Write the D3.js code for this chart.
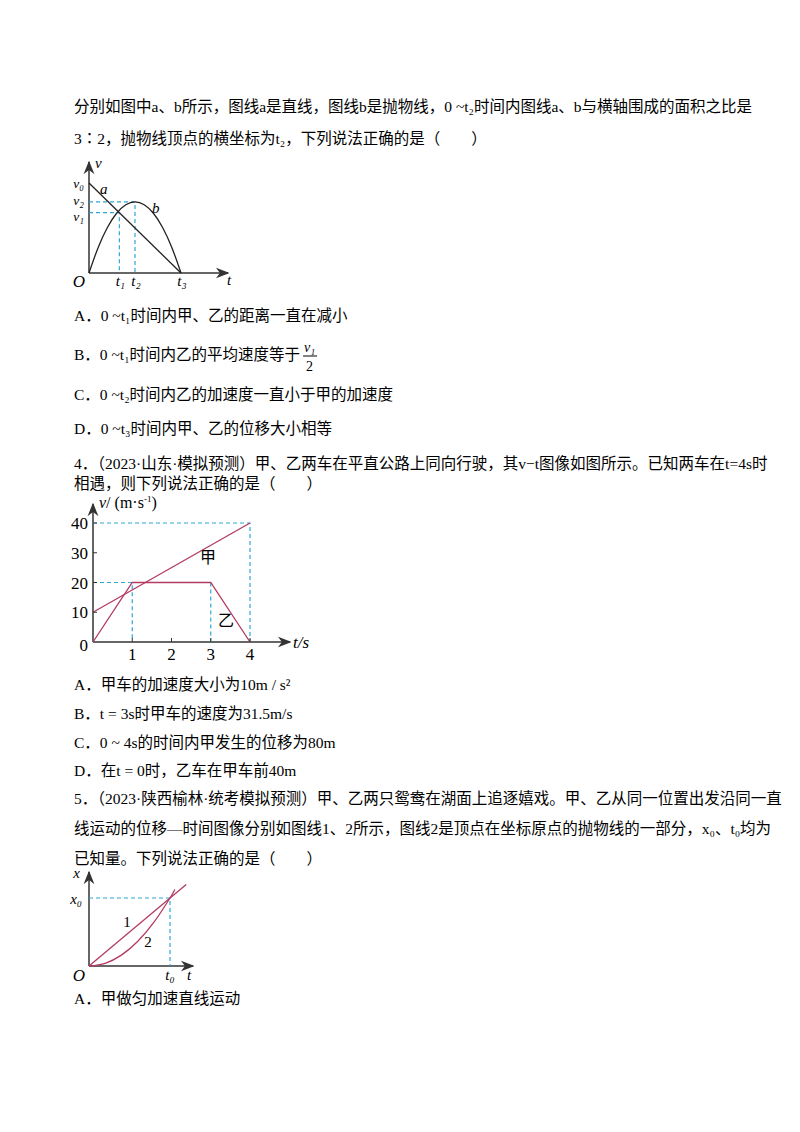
<!DOCTYPE html>
<html><head><meta charset="utf-8">
<script src="https://cdn.jsdelivr.net/npm/d3@7"></script>
<style>body{margin:0;background:#fff}svg{display:block}</style>
</head><body>
<script>
// text lines of the page [x, y(baseline), text]
var textLines = [
  [74, 112, "分别如图中a、b所示，图线a是直线，图线b是抛物线，0 ~t₂时间内图线a、b与横轴围成的面积之比是"],
  [74, 144, "3∶2，抛物线顶点的横坐标为t₂，下列说法正确的是（　　）"],
  [74, 321, "A．0 ~t₁时间内甲、乙的距离一直在减小"],
  [74, 360, "B．0 ~t₁时间内乙的平均速度等于"],
  [74, 400, "C．0 ~t₂时间内乙的加速度一直小于甲的加速度"],
  [74, 434, "D．0 ~t₃时间内甲、乙的位移大小相等"],
  [74, 469, "4．（2023·山东·模拟预测）甲、乙两车在平直公路上同向行驶，其v−t图像如图所示。已知两车在t=4s时"],
  [74, 489, "相遇，则下列说法正确的是（　　）"],
  [74, 690, "A．甲车的加速度大小为10m / s²"],
  [74, 719, "B．t = 3s时甲车的速度为31.5m/s"],
  [74, 748, "C．0 ~ 4s的时间内甲发生的位移为80m"],
  [74, 776, "D．在t = 0时，乙车在甲车前40m"],
  [74, 804, "5．（2023·陕西榆林·统考模拟预测）甲、乙两只鸳鸯在湖面上追逐嬉戏。甲、乙从同一位置出发沿同一直"],
  [74, 834, "线运动的位移—时间图像分别如图线1、2所示，图线2是顶点在坐标原点的抛物线的一部分，x₀、t₀均为"],
  [74, 864, "已知量。下列说法正确的是（　　）"],
  [74, 1004, "A．甲做匀加速直线运动"]
];

// chart 1 (v-t, a straight, b parabola), units in t3 = 1, v0 = 1
var c1T = ["t₁", "t₂", "t₃"], c1TVal = [0.33, 0.5, 1];
var c1V = ["v₀", "v₂", "v₁"], c1VVal = [1, 0.79, 0.67];
var c1A = [[0, 1], [1, 0]];
var c1B = [0, 0.1, 0.2, 0.3, 0.4, 0.5, 0.6, 0.7, 0.8, 0.9, 1].map(function(t){ return [t, 0.79 * 4 * t * (1 - t)]; });

// chart 2 (v-t, 甲 and 乙)
var c2Ticks = [0, 10, 20, 30, 40], c2TTicks = [1, 2, 3, 4];
var jia = [[0, 10], [4, 40]];
var yi = [[0, 0], [1, 20], [3, 20], [4, 0]];

// chart 3 (x-t), t0 = 1, x0 = 1
var c3Line = [[0, 0], [1.2, 1.2]];
var c3Para = [0, 0.2, 0.4, 0.6, 0.8, 1, 1.06].map(function(t){ return [t, t * t]; });

var svg = d3.select("body").append("svg").attr("width", 800).attr("height", 1132);
var font = "'Liberation Serif','Noto Sans CJK SC',serif";
var red = "#b23a63", blue = "#2ea8d8";

var lines = svg.selectAll("text.line").data(textLines).enter().append("text")
  .attr("x", function(d){ return d[0]; }).attr("y", function(d){ return d[1]; })
  .attr("font-size", 15.5).attr("font-family", font).text(function(d){ return d[2]; });
// fraction v1/2 placed after line B
var fx = 74 + lines.nodes()[3].getComputedTextLength() + 3;
var fr = svg.append("g").attr("font-family", font).attr("font-style", "italic").attr("font-size", 14);
fr.append("text").attr("x", fx + 1).attr("y", 352).text("v₁");
fr.append("line").attr("x1", fx).attr("x2", fx + 14).attr("y1", 356).attr("y2", 356).attr("stroke", "#000");
fr.append("text").attr("x", fx + 3).attr("y", 371).attr("font-style", "normal").text("2");

defs = svg.append("defs");
function marker(id, col) {
  defs.append("marker").attr("id", id).attr("viewBox", "0 0 10 10").attr("refX", 9).attr("refY", 5)
    .attr("markerWidth", 9).attr("markerHeight", 9).attr("orient", "auto-start-reverse")
    .append("path").attr("d", "M0,1 L10,5 L0,9 L3,5Z").attr("fill", col);
}
marker("ar", "#333");

function axes(g, x0, y0, x1, y1) {
  g.append("line").attr("x1", x0).attr("y1", y0).attr("x2", x1).attr("y2", y0).attr("stroke", "#333").attr("stroke-width", 1.5).attr("marker-end", "url(#ar)");
  g.append("line").attr("x1", x0).attr("y1", y0).attr("x2", x0).attr("y2", y1).attr("stroke", "#333").attr("stroke-width", 1.5).attr("marker-end", "url(#ar)");
}
function dash(g, x, y, x0, y0) {
  var p = "M" + x0 + "," + y + "H" + x + "V" + y0;
  g.append("path").attr("d", p).attr("fill", "none").attr("stroke", blue).attr("stroke-width", 1.2).attr("stroke-dasharray", "4,3");
}
function lbl(g, x, y, t, anchor, italic, size) {
  g.append("text").attr("x", x).attr("y", y).attr("text-anchor", anchor || "middle")
    .attr("font-family", font).attr("font-style", italic ? "italic" : "normal").attr("font-size", size || 15).text(t);
}

// ---- chart 1
var g1 = svg.append("g");
var x1 = d3.scaleLinear().domain([0, 1]).range([89, 181]);
var y1 = d3.scaleLinear().domain([0, 1]).range([273, 183]);
axes(g1, 89, 273, 228, 162);
dash(g1, x1(c1TVal[0]), y1(c1VVal[2]), 89, 273);
dash(g1, x1(c1TVal[1]), y1(c1VVal[1]), 89, 273);
var ln = d3.line().x(function(d){ return x1(d[0]); }).y(function(d){ return y1(d[1]); });
g1.append("path").attr("d", ln(c1A)).attr("fill", "none").attr("stroke", "#222").attr("stroke-width", 1.3);
g1.append("path").attr("d", ln.curve(d3.curveCardinal)(c1B)).attr("fill", "none").attr("stroke", "#222").attr("stroke-width", 1.3);
c1T.forEach(function(t, i){ lbl(g1, x1(c1TVal[i]) + 1, 286, t, "middle", true); });
c1V.forEach(function(t, i){ lbl(g1, 84, y1(c1VVal[i]) + (i === 1 ? 3 : i === 2 ? 8 : 5), t, "end", true, 13.5); });
lbl(g1, 85, 287, "O", "end", true, 17);
lbl(g1, 229, 285, "t", "middle", true);
lbl(g1, 95, 168, "v", "start", true);
lbl(g1, 100, 194, "a", "start", true);
lbl(g1, 152, 213, "b", "start", true);

// ---- chart 2
var g2 = svg.append("g");
var x2 = d3.scaleLinear().domain([0, 4]).range([93, 250]);
var y2 = d3.scaleLinear().domain([0, 40]).range([642, 523]);
axes(g2, 93, 642, 290, 504);
dash(g2, x2(1), y2(20), 93, 642);
dash(g2, x2(4), y2(40), 93, 642);
g2.append("path").attr("d", "M" + x2(3) + "," + y2(20) + "V642").attr("stroke", blue).attr("stroke-width", 1.2).attr("stroke-dasharray", "4,3");
var ln2 = d3.line().x(function(d){ return x2(d[0]); }).y(function(d){ return y2(d[1]); });
g2.append("path").attr("d", ln2(jia)).attr("fill", "none").attr("stroke", red).attr("stroke-width", 1.3);
g2.append("path").attr("d", ln2(yi)).attr("fill", "none").attr("stroke", red).attr("stroke-width", 1.3);
c2Ticks.forEach(function(v){
  lbl(g2, 88, y2(v) + (v ? 6 : 9), v, "end", false, 17);
  if (v) g2.append("line").attr("x1", 93).attr("x2", 97).attr("y1", y2(v)).attr("y2", y2(v)).attr("stroke", "#333");
});
c2TTicks.forEach(function(t){
  lbl(g2, x2(t), 660, t, "middle", false, 17);
  g2.append("line").attr("x1", x2(t)).attr("x2", x2(t)).attr("y1", 642).attr("y2", 638).attr("stroke", "#333");
});
lbl(g2, 293, 648, "t/s", "start", true, 17);
g2.append("text").attr("x", 99).attr("y", 508).attr("font-family", font).attr("font-size", 16)
  .html("<tspan font-style='italic'>v</tspan>/ (m·s<tspan font-size='9' dy='-6'>-1</tspan><tspan dy='6'>)</tspan>");
lbl(g2, 208, 563, "甲", "middle", false, 16);
lbl(g2, 226, 626, "乙", "middle", false, 16);

// ---- chart 3
var g3 = svg.append("g");
var x3 = d3.scaleLinear().domain([0, 1]).range([89, 170]);
var y3 = d3.scaleLinear().domain([0, 1]).range([966, 898]);
axes(g3, 89, 966, 193, 872);
dash(g3, x3(1), y3(1), 89, 966);
var ln3 = d3.line().x(function(d){ return x3(d[0]); }).y(function(d){ return y3(d[1]); });
g3.append("path").attr("d", ln3(c3Line)).attr("fill", "none").attr("stroke", red).attr("stroke-width", 1.3);
g3.append("path").attr("d", ln3.curve(d3.curveCardinal)(c3Para)).attr("fill", "none").attr("stroke", red).attr("stroke-width", 1.3);
lbl(g3, 82, 904, "x₀", "end", true);
lbl(g3, 85, 981, "O", "end", true, 17);
lbl(g3, 170, 980, "t₀", "middle", true);
lbl(g3, 189, 980, "t", "middle", true);
lbl(g3, 80, 878, "x", "end", true);
lbl(g3, 127, 927, "1", "middle", false);
lbl(g3, 148, 947, "2", "middle", false);
</script>
</body></html>
